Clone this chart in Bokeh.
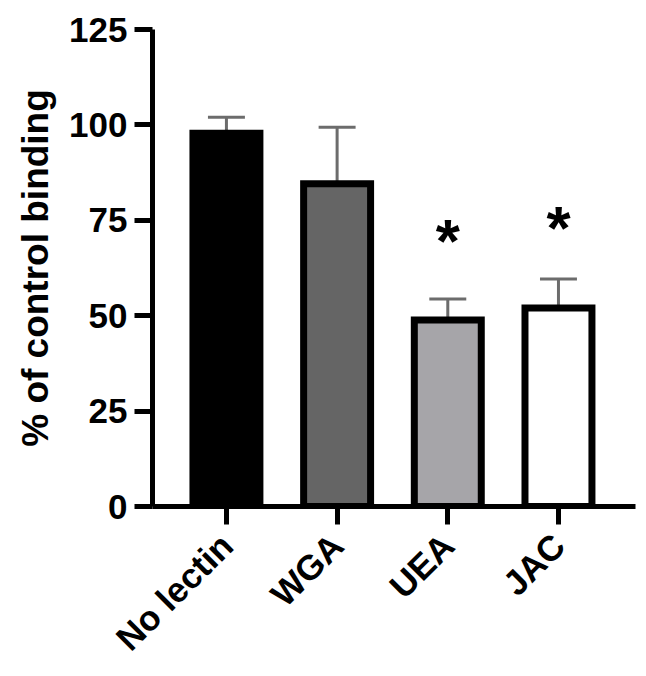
import math
from bokeh.plotting import figure
from bokeh.models import Range1d, FixedTicker, ColumnDataSource
from bokeh.core.properties import value
from bokeh.embed import file_html
from bokeh.resources import INLINE

categories = ["No lectin", "WGA", "UEA", "JAC"]
means = [97.8, 84.6, 48.9, 52.0]
err_upper = [102.0, 99.4, 54.4, 59.6]
fills = ["#000000", "#656565", "#a6a5a9", "#ffffff"]
sig_labels = ["", "", "*", "*"]
sig_y = [0, 0, 79.2, 82.6]
y_ticks = [0, 25, 50, 75, 100, 125]

xs = list(range(len(categories)))
FONT = "Liberation Sans"

p = figure(width=638, height=674, output_backend="svg", toolbar_location=None,
           x_range=Range1d(-0.668, 3.696), y_range=Range1d(0, 125),
           min_border_left=152, min_border_right=3, min_border_top=29,
           min_border_bottom=167)
p.outline_line_color = None
p.xgrid.visible = False
p.ygrid.visible = False
p.background_fill_color = "white"

src = ColumnDataSource(dict(x=xs, top=means, up=err_upper, fill=fills))

# error bars (drawn before bars)
p.segment(x0="x", y0="top", x1="x", y1="up", source=src,
          line_color="#6c6c6c", line_width=3)
cap_src = ColumnDataSource(dict(x0=[x - 0.167 for x in xs], x1=[x + 0.167 for x in xs],
                                y=err_upper))
p.segment(x0="x0", y0="y", x1="x1", y1="y", source=cap_src,
          line_color="#6c6c6c", line_width=3)

p.vbar(x="x", top="top", bottom=0, width=0.605, source=src,
       fill_color="fill", line_color="black", line_width=7, line_join="miter")

sig_idx = [i for i, s in enumerate(sig_labels) if s]
p.text(x=[xs[i] for i in sig_idx], y=[sig_y[i] for i in sig_idx],
       text=[sig_labels[i] for i in sig_idx],
       text_font=value(FONT), text_font_size="62px", text_font_style="bold",
       text_align="center", text_baseline="alphabetic", y_offset=36,
       text_color="black")

for ax in (p.xaxis[0], p.yaxis[0]):
    ax.axis_line_width = 5
    ax.axis_line_color = "black"
    ax.major_tick_line_width = 5
    ax.major_tick_line_color = "black"
    ax.major_tick_out = 18
    ax.major_tick_in = 0
    ax.minor_tick_line_color = None
    ax.major_label_text_font = FONT
    ax.major_label_text_font_size = "35px"
    ax.major_label_text_font_style = "bold"
    ax.major_label_text_color = "black"

p.yaxis.ticker = FixedTicker(ticks=y_ticks)
p.yaxis.major_label_standoff = 7
p.yaxis.axis_label = "% of control binding"
p.yaxis.axis_label_text_font = FONT
p.yaxis.axis_label_text_font_size = "37px"
p.yaxis.axis_label_text_font_style = "bold"
p.yaxis.axis_label_text_color = "black"
p.yaxis.axis_label_standoff = 10

p.xaxis.ticker = FixedTicker(ticks=xs)
p.xaxis.major_label_overrides = {i: c for i, c in zip(xs, categories)}
p.xaxis.major_label_orientation = math.pi / 4
p.xaxis.major_label_standoff = 15

open("out.html", "w").write(file_html(p, INLINE))
